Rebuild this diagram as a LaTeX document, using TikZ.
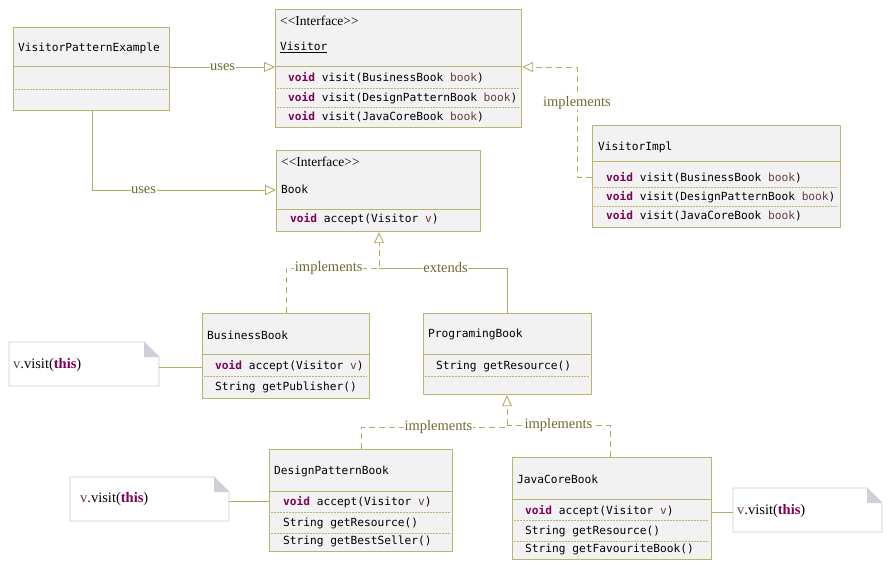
\documentclass[tikz,border=0pt]{standalone}
\usepackage{fontspec}
\setmainfont{Liberation Serif}
\newfontfamily\monof{DejaVu Sans Mono}
\usetikzlibrary{arrows.meta}
\definecolor{bord}{HTML}{BDB371}
\definecolor{lnc}{HTML}{B5AB66}
\definecolor{fillc}{HTML}{F2F2F2}
\definecolor{lbl}{HTML}{6E6A30}
\definecolor{kw}{HTML}{7F0055}
\definecolor{par}{HTML}{6A3E3E}
\definecolor{nb}{HTML}{C8C8D6}
\definecolor{nf}{HTML}{CFCFDA}
\newcommand{\kwv}{\textcolor{kw}{\bfseries void}}
\newcommand{\pp}[1]{\textcolor{par}{#1}}
\newcommand{\iface}{<\kern0pt<Interface>\kern0pt>}
\begin{document}
\begin{tikzpicture}[x=1pt,y=-1pt,
  box/.style={draw=bord,line width=1.2pt,fill=fillc,anchor=north west,inner sep=0pt},
  txt/.style={anchor=west,font=\monof\fontsize{11.2}{12}\selectfont,inner sep=0pt,text=black},
  ser/.style={anchor=west,font=\fontsize{13.5}{15}\selectfont,inner sep=0pt},
  nser/.style={anchor=west,font=\fontsize{14.5}{16}\selectfont,inner sep=0pt},
  div/.style={draw=bord,line width=1pt},
  dsh/.style={draw=bord,dash pattern=on 2pt off 1pt,line width=0.5pt},
  con/.style={draw=lnc,line width=0.9pt},
  dcon/.style={con,dash pattern=on 6pt off 4pt},
  tip/.style={-{Triangle[open,length=11pt,width=10pt,fill=white]}},
  lab/.style={font=\fontsize{14.5}{16}\selectfont,text=lbl,fill=white,inner sep=0.5pt},
  note/.style={draw=nb,fill=white,line width=0.8pt}]
\useasboundingbox (0,0) rectangle (894,567);
% boxes
\node[box,minimum width=156pt,minimum height=83pt] (vpe) at (13,27) {};
\draw[div] (13,67)--(169,67); \draw[dsh](15,89)--(167,89);
\node[txt] (vpen) at (18,48) {VisitorPatternExample};

\node[box,minimum width=246pt,minimum height=118pt] (vis) at (275,9) {};
\draw[div] (275,67)--(521,67); \draw[dsh](277,88)--(519,88); \draw[dsh](277,107)--(519,107);
\node[ser] at (280,21) {\iface};
\node[txt] at (280,47) {\underline{Visitor}};
\node[txt] at (288,78) {\kwv{} visit(BusinessBook \pp{book})};
\node[txt] at (288,98) {\kwv{} visit(DesignPatternBook \pp{book})};
\node[txt] at (288,117) {\kwv{} visit(JavaCoreBook \pp{book})};

\node[box,minimum width=248pt,minimum height=102pt] (vimp) at (592,125) {};
\draw[div] (592,161)--(840,161); \draw[dsh](594,187)--(838,187); \draw[dsh](594,206)--(838,206);
\node[txt] at (598,147) {VisitorImpl};
\node[txt] at (606,178) {\kwv{} visit(BusinessBook \pp{book})};
\node[txt] at (606,197) {\kwv{} visit(DesignPatternBook \pp{book})};
\node[txt] at (606,216) {\kwv{} visit(JavaCoreBook \pp{book})};

\node[box,minimum width=204pt,minimum height=81pt] (book) at (276,150) {};
\draw[div] (276,209)--(480,209);
\node[ser] at (281,162) {\iface};
\node[txt] at (281,189) {Book};
\node[txt] at (290,219) {\kwv{} accept(Visitor \pp{v})};

\node[box,minimum width=167pt,minimum height=85pt] (bb) at (202,313) {};
\draw[div] (202,354)--(369,354); \draw[dsh](204,376)--(367,376);
\node[txt] at (207,335) {BusinessBook};
\node[txt] at (215,366) {\kwv{} accept(Visitor \pp{v})};
\node[txt] at (215,387) {String getPublisher()};

\node[box,minimum width=168pt,minimum height=81pt] (pb) at (423,313) {};
\draw[div] (423,354)--(591,354); \draw[dsh](425,376)--(589,376);
\node[txt] at (428,334) {ProgramingBook};
\node[txt] at (436,366) {String getResource()};

\node[box,minimum width=183pt,minimum height=102pt] (dpb) at (269,449) {};
\draw[div] (269,491)--(452,491); \draw[dsh](271,512)--(450,512); \draw[dsh](271,533)--(450,533);
\node[txt] at (274,471) {DesignPatternBook};
\node[txt] at (283,502) {\kwv{} accept(Visitor \pp{v})};
\node[txt] at (283,523) {String getResource()};
\node[txt] at (283,541) {String getBestSeller()};

\node[box,minimum width=199pt,minimum height=102pt] (jcb) at (512,457) {};
\draw[div] (512,499)--(711,499); \draw[dsh](514,520)--(709,520); \draw[dsh](514,541)--(709,541);
\node[txt] at (517,479) {JavaCoreBook};
\node[txt] at (525,511) {\kwv{} accept(Visitor \pp{v})};
\node[txt] at (525,531) {String getResource()};
\node[txt] at (525,549) {String getFavouriteBook()};

% notes
\draw[note] (9,342)--(144,342)--(159,357)--(159,386)--(9,386)--cycle;
\fill[nf] (144,342)--(159,357)--(144,357)--cycle;
\node[nser] (n1) at (13,365) {\textcolor{par}{v}.visit(\textcolor{kw}{\bfseries this})};
\coordinate (n1r) at (159,367);
\draw[note] (70,477)--(214,477)--(229,492)--(229,521)--(70,521)--cycle;
\fill[nf] (214,477)--(229,492)--(214,492)--cycle;
\node[nser] (n2) at (80,499) {\textcolor{par}{v}.visit(\textcolor{kw}{\bfseries this})};
\coordinate (n2r) at (229,501);
\draw[note] (733,488)--(867,488)--(882,503)--(882,532)--(733,532)--cycle;
\fill[nf] (867,488)--(882,503)--(867,503)--cycle;
\node[nser] (n3) at (737,511) {\textcolor{par}{v}.visit(\textcolor{kw}{\bfseries this})};
\coordinate (n3l) at (733,512);

% connectors
\draw[con,tip] (vpe.north east |- 0,67) -- node[lab]{uses} (vis.north west |- 0,67);
\draw[con,tip] (vpe.south west -| 92,0) -- (92,190) -- node[lab,pos=0.28]{uses} (book.north west |- 0,190);
\draw[dcon,tip] (vimp.north west |- 0,177) -- (577,177) -- node[lab,pos=0.67]{implements} (577,67) -- (vis.north east |- 0,67);
\draw[dcon,tip] (bb.north west -| 286,0) -- (286,268) -- node[lab,pos=0.46]{implements} (379,268) -- (book.south west -| 379,0);
\draw[con] (pb.north west -| 507,0) -- (507,268) -- node[lab,pos=0.48]{extends} (379,268);
\draw[dcon,tip] (dpb.north west -| 361,0) -- (361,427) -- node[lab,pos=0.53]{implements} (507,427) -- (pb.south west -| 507,0);
\draw[dcon] (jcb.north west -| 610,0) -- (610,425) -- node[lab,pos=0.5]{implements} (507,425);
\draw[con] (n1r) -- (bb.north west |- 0,367);
\draw[con] (n2r) -- (dpb.north west |- 0,501);
\draw[con] (n3l) -- (jcb.north east |- 0,512);
\end{tikzpicture}
\end{document}
